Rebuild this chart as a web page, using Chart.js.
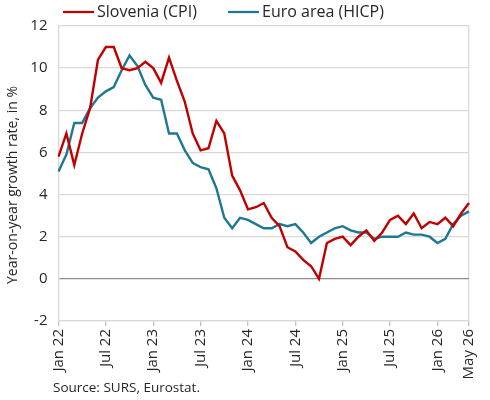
<!DOCTYPE html>
<html>
<head>
<meta charset="utf-8">
<script src="https://cdn.jsdelivr.net/npm/chart.js@4/dist/chart.umd.min.js"></script>
<style>
  body { margin: 0; background: #fff; }
  #wrap { width: 490px; height: 400px; }
</style>
</head>
<body>
<div id="wrap"><canvas id="inflationChart" width="490" height="400"></canvas></div>
<script>
// Monthly y-o-y inflation, Jan 2022 - May 2026
const months = [
  'Jan 22', 'Feb 22', 'Mar 22', 'Apr 22', 'May 22', 'Jun 22', 'Jul 22', 'Aug 22', 'Sep 22', 'Oct 22', 'Nov 22', 'Dec 22',
  'Jan 23', 'Feb 23', 'Mar 23', 'Apr 23', 'May 23', 'Jun 23', 'Jul 23', 'Aug 23', 'Sep 23', 'Oct 23', 'Nov 23', 'Dec 23',
  'Jan 24', 'Feb 24', 'Mar 24', 'Apr 24', 'May 24', 'Jun 24', 'Jul 24', 'Aug 24', 'Sep 24', 'Oct 24', 'Nov 24', 'Dec 24',
  'Jan 25', 'Feb 25', 'Mar 25', 'Apr 25', 'May 25', 'Jun 25', 'Jul 25', 'Aug 25', 'Sep 25', 'Oct 25', 'Nov 25', 'Dec 25',
  'Jan 26', 'Feb 26', 'Mar 26', 'Apr 26', 'May 26'
];
const sloveniaCPI = [
  5.8, 6.9, 5.4, 6.9, 8.1, 10.4, 11.0, 11.0, 10.0, 9.9, 10.0, 10.3,
  10.0, 9.3, 10.5, 9.4, 8.4, 6.9, 6.1, 6.2, 7.5, 6.9, 4.9, 4.2,
  3.3, 3.4, 3.6, 2.9, 2.5, 1.5, 1.3, 0.9, 0.6, 0.0, 1.7, 1.9,
  2.0, 1.6, 2.0, 2.3, 1.8, 2.2, 2.8, 3.0, 2.6, 3.1, 2.4, 2.7,
  2.6, 2.9, 2.5, 3.1, 3.6
];
const euroHICP = [
  5.1, 5.9, 7.4, 7.4, 8.1, 8.6, 8.9, 9.1, 9.9, 10.6, 10.1, 9.2,
  8.6, 8.5, 6.9, 6.9, 6.1, 5.5, 5.3, 5.2, 4.3, 2.9, 2.4, 2.9,
  2.8, 2.6, 2.4, 2.4, 2.6, 2.5, 2.6, 2.2, 1.7, 2.0, 2.2, 2.4,
  2.5, 2.3, 2.2, 2.2, 1.9, 2.0, 2.0, 2.0, 2.2, 2.1, 2.1, 2.0,
  1.7, 1.9, 2.6, 3.0, 3.2
];
// months that get a label on the x axis
const tickLabels = ['Jan 22', 'Jul 22', 'Jan 23', 'Jul 23', 'Jan 24', 'Jul 24', 'Jan 25', 'Jul 25', 'Jan 26', 'May 26'];

const FONT = "'Open Sans', 'Liberation Sans', sans-serif";
const TEXT = '#262626';
const RED = '#c00000';
const BLUE = '#1f7891';

// legend, y title and source note drawn by hand so they sit where the original has them
const notes = {
  id: 'notes',
  afterDraw(chart) {
    const ctx = chart.ctx;
    ctx.save();
    ctx.font = '16px ' + FONT;
    ctx.fillStyle = TEXT;
    ctx.textBaseline = 'middle';
    ctx.lineWidth = 2.25;
    const items = [
      { x: 63, ds: chart.data.datasets[0] },
      { x: 228, ds: chart.data.datasets[1] }
    ];
    items.forEach(it => {
      ctx.strokeStyle = it.ds.borderColor;
      ctx.beginPath();
      ctx.moveTo(it.x, 12);
      ctx.lineTo(it.x + 31, 12);
      ctx.stroke();
      ctx.fillText(it.ds.label, it.x + 34, 12);
    });

    ctx.font = '13.5px ' + FONT;
    ctx.fillText('Source: SURS, Eurostat.', 53, 388);

    // y axis title
    ctx.save();
    ctx.translate(13, 185);
    ctx.rotate(-Math.PI / 2);
    ctx.textAlign = 'center';
    ctx.font = '14px ' + FONT;
    ctx.fillText('Year-on-year growth rate, in %', 0, 0);
    ctx.restore();

    ctx.restore();
  }
};

new Chart(document.getElementById('inflationChart'), {
  type: 'line',
  data: {
    labels: months,
    datasets: [
      {
        label: 'Slovenia (CPI)',
        data: sloveniaCPI,
        borderColor: RED,
        borderWidth: 2.4,
        pointRadius: 0,
        tension: 0
      },
      {
        label: 'Euro area (HICP)',
        data: euroHICP,
        borderColor: BLUE,
        borderWidth: 2.4,
        pointRadius: 0,
        tension: 0
      }
    ]
  },
  options: {
    responsive: false,
    animation: false,
    layout: { padding: { top: 26, right: 10, bottom: 0, left: 0 } },
    plugins: {
      legend: { display: false },
      tooltip: { enabled: false }
    },
    scales: {
      x: {
        offset: false,
        afterFit: s => { s.height = 79; },
        grid: {
          drawOnChartArea: true,
          color: c => (c.index === months.length - 1 ? '#d9d9d9' : 'transparent'),
          tickColor: c => (tickLabels.includes(months[c.index]) ? '#bfbfbf' : 'transparent'),
          tickLength: 5,
          lineWidth: 1.3
        },
        border: { display: true, color: '#d9d9d9', width: 1.3 },
        ticks: {
          autoSkip: false,
          minRotation: 90,
          maxRotation: 90,
          padding: 3,
          color: TEXT,
          font: { family: FONT, size: 15 },
          callback: (v, i) => (tickLabels.includes(months[i]) ? months[i] : '')
        }
      },
      y: {
        min: -2,
        max: 12,
        afterFit: s => { s.width = 58.5; },
        grid: {
          drawTicks: false,
          color: c => (c.tick.value === 0 ? '#8c8c8c' : '#d9d9d9'),
          lineWidth: 1.3
        },
        border: { display: true, color: '#d9d9d9', width: 1.3 },
        ticks: {
          stepSize: 2,
          padding: 11,
          color: TEXT,
          font: { family: FONT, size: 15 }
        }
      }
    }
  },
  plugins: [notes]
});
</script>
</body>
</html>
